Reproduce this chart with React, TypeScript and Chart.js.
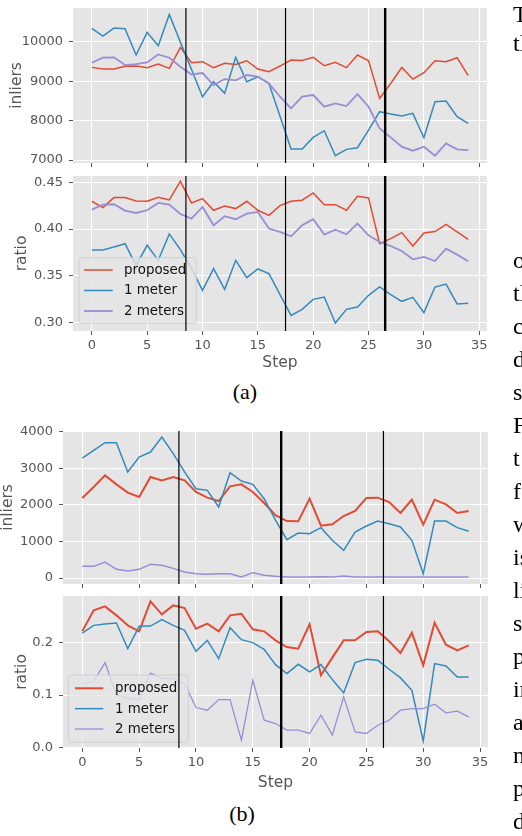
import React, { useEffect, useRef } from "react";
import { Chart, registerables } from "chart.js";

Chart.register(...registerables);

// ---------------- data ----------------
const steps = [0, 1, 2, 3, 4, 5, 6, 7, 8, 9, 10, 11, 12, 13, 14, 15, 16, 17, 18, 19, 20, 21, 22, 23, 24, 25, 26, 27, 28, 29, 30, 31, 32, 33, 34];
const xTicks = [0, 5, 10, 15, 20, 25, 30, 35];
const eventSteps = [8.5, 17.5, 26.5];
const seriesLabels = ["proposed", "1 meter", "2 meters"];
const xAxisLabel = "Step";
const inliersLabel = "inliers";
const ratioLabel = "ratio";
const captions = ["(a)", "(b)"];

const aInliersTicks = [7000, 8000, 9000, 10000];
const aRatioTicks = [0.3, 0.35, 0.4, 0.45];
const bInliersTicks = [0, 1000, 2000, 3000, 4000];
const bRatioTicks = [0.0, 0.1, 0.2];

const aInliersProposed = [9349, 9307, 9307, 9375, 9383, 9341, 9434, 9324, 9856, 9467, 9493, 9341, 9451, 9425, 9518, 9307, 9239, 9383, 9535, 9525, 9603, 9391, 9476, 9341, 9662, 9518, 8563, 8940, 9349, 9053, 9214, 9518, 9493, 9594, 9138];
const aInliers1m = [10338, 10144, 10347, 10330, 9662, 10237, 9899, 10693, 9990, 9300, 8605, 8986, 8690, 9603, 8986, 9112, 8943, 8110, 7278, 7278, 7574, 7743, 7109, 7270, 7312, 7760, 8225, 8166, 8115, 8183, 7565, 8478, 8495, 8098, 7929];
const aInliers2m = [9467, 9594, 9603, 9408, 9434, 9476, 9679, 9594, 9364, 9170, 9205, 8901, 9053, 9019, 9155, 9112, 8943, 8605, 8309, 8605, 8647, 8351, 8436, 8369, 8673, 8351, 7802, 7574, 7337, 7236, 7337, 7109, 7422, 7270, 7253];

const aRatioProposed = [0.4297, 0.4229, 0.4336, 0.4336, 0.43, 0.4297, 0.434, 0.4311, 0.4511, 0.4279, 0.4325, 0.4201, 0.4247, 0.4219, 0.4297, 0.4201, 0.4147, 0.425, 0.4297, 0.4308, 0.4386, 0.4261, 0.4261, 0.4201, 0.435, 0.4333, 0.3844, 0.3898, 0.3962, 0.3819, 0.3958, 0.3973, 0.4051, 0.3969, 0.3891];
const aRatio1m = [0.3777, 0.3777, 0.3809, 0.3844, 0.3613, 0.3827, 0.3666, 0.3948, 0.378, 0.358, 0.3346, 0.3577, 0.3356, 0.3666, 0.3481, 0.3574, 0.3524, 0.33, 0.3078, 0.3142, 0.3249, 0.3274, 0.2996, 0.3142, 0.3167, 0.3292, 0.3381, 0.3299, 0.3228, 0.3271, 0.3107, 0.3381, 0.3413, 0.32, 0.3207];
const aRatio2m = [0.4208, 0.4261, 0.4265, 0.4197, 0.4172, 0.4201, 0.4279, 0.4261, 0.4161, 0.4112, 0.4236, 0.404, 0.4137, 0.4105, 0.4165, 0.4183, 0.4005, 0.3969, 0.3923, 0.404, 0.4105, 0.3941, 0.3994, 0.3944, 0.4058, 0.3933, 0.3862, 0.3819, 0.3766, 0.3677, 0.3702, 0.3659, 0.3791, 0.3727, 0.3656];

const bInliersProposed = [2187, 2487, 2806, 2560, 2333, 2214, 2761, 2670, 2761, 2670, 2351, 2196, 2105, 2506, 2560, 2351, 2050, 1720, 1558, 1549, 2169, 1431, 1467, 1695, 1831, 2187, 2196, 2077, 1777, 2141, 1458, 2141, 2014, 1777, 1831];
const bInliers1m = [3280, 3490, 3699, 3699, 2897, 3308, 3444, 3854, 3400, 2900, 2442, 2397, 1941, 2879, 2651, 2560, 2169, 1580, 1048, 1230, 1212, 1376, 1030, 756, 1257, 1421, 1558, 1485, 1394, 1030, 118, 1558, 1558, 1376, 1276];
const bInliers2m = [319, 319, 437, 237, 191, 237, 374, 346, 264, 164, 118, 100, 118, 118, 27, 146, 73, 46, 27, 27, 27, 36, 27, 55, 27, 27, 27, 27, 27, 27, 27, 27, 27, 27, 27];

const bRatioProposed = [0.222, 0.2616, 0.2692, 0.2521, 0.233, 0.2216, 0.2787, 0.254, 0.2711, 0.266, 0.2267, 0.2362, 0.2216, 0.2521, 0.2552, 0.2254, 0.2216, 0.2044, 0.1917, 0.1886, 0.2349, 0.1378, 0.1714, 0.2044, 0.2044, 0.2203, 0.2216, 0.2025, 0.1803, 0.219, 0.1568, 0.2381, 0.1962, 0.1854, 0.1949];
const bRatio1m = [0.2184, 0.233, 0.2356, 0.2375, 0.1886, 0.2311, 0.2317, 0.2438, 0.233, 0.2235, 0.1835, 0.2044, 0.1695, 0.2286, 0.2057, 0.2, 0.1873, 0.158, 0.141, 0.1587, 0.1441, 0.1581, 0.1295, 0.1041, 0.1619, 0.1683, 0.1663, 0.1492, 0.1327, 0.1092, 0.0121, 0.16, 0.1556, 0.1346, 0.1346];
const bRatio2m = [0.1219, 0.1263, 0.1619, 0.1, 0.094, 0.091, 0.142, 0.132, 0.132, 0.1219, 0.0762, 0.0711, 0.0914, 0.0914, 0.014, 0.1283, 0.0521, 0.0457, 0.033, 0.033, 0.0267, 0.0616, 0.0235, 0.0965, 0.0298, 0.0267, 0.0425, 0.0521, 0.0711, 0.0743, 0.0743, 0.0825, 0.066, 0.0692, 0.0584];

// clipped text of the neighbouring page column
const sideWords = ["The", "tl", "o", "tl", "c", "d", "s", "Fi", "t", "f", "w", "is", "li", "s", "p", "in", "a", "n", "p", "d"];

// ---------------- styles ----------------
const FONT = "'DejaVu Sans', Verdana, sans-serif";
const SERIF = "'Liberation Serif', 'Times New Roman', serif";
const COLORS = ["#E24A33", "#348ABD", "#988ED5"];
const TICK_COLOR = "#555555";
const PLOT_BG = "#E5E5E5";
const X_MIN = -1.7;
const X_MAX = 35.7;

type LegendOpts = {
  display: boolean;
  offsetX: number;
  offsetY: number;
  firstRow: number;
  rowGap: number;
  lineStart: number;
  lineLength: number;
  textOffset: number;
  padRight: number;
  fontSize: number;
};

type Panel = {
  key: string;
  canvasTop: number;
  canvasHeight: number;
  plotLeft: number;
  plotRight: number;
  xAxisHeight: number;
  yMin: number;
  yMax: number;
  yTicks: number[];
  yDecimals: number;
  yTitle: string;
  yTitlePad: number;
  showX: boolean;
  series: number[][];
  widths: number[];
  eventWidths: number[];
  legend: LegendOpts | null;
};

const panels: Panel[] = [
  {
    key: "a-top", canvasTop: -2, canvasHeight: 173, plotLeft: 73, plotRight: 487, xAxisHeight: 8,
    yMin: 6924, yMax: 10855, yTicks: aInliersTicks, yDecimals: 0, yTitle: inliersLabel, yTitlePad: 9.7,
    showX: false, series: [aInliersProposed, aInliers1m, aInliers2m], widths: [1.5, 1.5, 1.8],
    eventWidths: [1.2, 1.2, 2.4], legend: null,
  },
  {
    key: "a-bottom", canvasTop: 166, canvasHeight: 205, plotLeft: 73, plotRight: 487, xAxisHeight: 40,
    yMin: 0.2911, yMax: 0.4567, yTicks: aRatioTicks, yDecimals: 2, yTitle: ratioLabel, yTitlePad: 14.2,
    showX: true, series: [aRatioProposed, aRatio1m, aRatio2m], widths: [1.5, 1.5, 1.8],
    eventWidths: [1.2, 1.2, 2.4],
    legend: { display: true, offsetX: 6, offsetY: 7.7, firstRow: 12.3, rowGap: 20.5, lineStart: 5, lineLength: 28.7, textOffset: 45, padRight: 10, fontSize: 13.4 },
  },
  {
    key: "b-top", canvasTop: 421, canvasHeight: 171, plotLeft: 63, plotRight: 488, xAxisHeight: 8,
    yMin: -164, yMax: 4019, yTicks: bInliersTicks, yDecimals: 0, yTitle: inliersLabel, yTitlePad: 0.5,
    showX: false, series: [bInliersProposed, bInliers1m, bInliers2m], widths: [2, 1.5, 1.5],
    eventWidths: [1.2, 2.4, 1.2], legend: null,
  },
  {
    key: "b-bottom", canvasTop: 586, canvasHeight: 205, plotLeft: 63, plotRight: 488, xAxisHeight: 43,
    yMin: -0.001, yMax: 0.289, yTicks: bRatioTicks, yDecimals: 1, yTitle: ratioLabel, yTitlePad: 13.9,
    showX: true, series: [bRatioProposed, bRatio1m, bRatio2m], widths: [2, 1.5, 1.3],
    eventWidths: [1.2, 2.4, 1.2],
    legend: { display: true, offsetX: 5.3, offsetY: 5.7, firstRow: 13.3, rowGap: 20.35, lineStart: 6.7, lineLength: 28.3, textOffset: 46.7, padRight: 11, fontSize: 13.4 },
  },
];

// ---------------- plugins ----------------
const bgPlugin = {
  id: "plotBg",
  beforeDraw(chart: any) {
    const { ctx, chartArea: a } = chart;
    ctx.save();
    ctx.fillStyle = PLOT_BG;
    ctx.fillRect(a.left, a.top, a.right - a.left, a.bottom - a.top);
    ctx.restore();
  },
};

const legendPlugin = {
  id: "boxLegend",
  afterDatasetsDraw(chart: any, _args: any, opts: any) {
    if (!opts || !opts.display) return;
    const { ctx, chartArea } = chart;
    const ds = chart.data.datasets;
    ctx.save();
    ctx.font = `${opts.fontSize}px ${FONT}`;
    const textW = Math.max(...ds.map((d: any) => ctx.measureText(d.label).width));
    const w = opts.textOffset + textW + opts.padRight;
    const h = opts.firstRow * 2 + opts.rowGap * (ds.length - 1);
    const left = chartArea.left + opts.offsetX;
    const top = chartArea.bottom - opts.offsetY - h;
    ctx.beginPath();
    if (ctx.roundRect) ctx.roundRect(left, top, w, h, 3);
    else ctx.rect(left, top, w, h);
    ctx.fillStyle = "rgba(229,229,229,0.8)";
    ctx.fill();
    ctx.strokeStyle = "rgba(204,204,204,0.8)";
    ctx.lineWidth = 1;
    ctx.stroke();
    ds.forEach((d: any, i: number) => {
      const y = top + opts.firstRow + i * opts.rowGap;
      ctx.beginPath();
      ctx.strokeStyle = d.borderColor;
      ctx.lineWidth = d.borderWidth;
      ctx.moveTo(left + opts.lineStart, y);
      ctx.lineTo(left + opts.lineStart + opts.lineLength, y);
      ctx.stroke();
      ctx.fillStyle = "#111111";
      ctx.textBaseline = "middle";
      ctx.textAlign = "left";
      ctx.fillText(d.label, left + opts.textOffset, y + 0.5);
    });
    ctx.restore();
  },
};

const eventLinesPlugin = {
  id: "eventLines",
  afterDraw(chart: any, _args: any, opts: any) {
    if (!opts || !opts.values) return;
    const { ctx, chartArea: a } = chart;
    const xs = chart.scales.x;
    ctx.save();
    ctx.beginPath();
    ctx.rect(a.left, a.top, a.right - a.left, a.bottom - a.top);
    ctx.clip();
    opts.values.forEach((v: number, i: number) => {
      const px = xs.getPixelForValue(v);
      ctx.beginPath();
      ctx.strokeStyle = "#000000";
      ctx.lineWidth = opts.widths[i];
      ctx.moveTo(px, a.top);
      ctx.lineTo(px, a.bottom);
      ctx.stroke();
    });
    ctx.restore();
  },
};

function zeroPad(s: any) {
  s.paddingLeft = 0;
  s.paddingRight = 0;
  s.paddingTop = 0;
  s.paddingBottom = 0;
}

function buildConfig(p: Panel): any {
  return {
    type: "line",
    data: {
      datasets: p.series.map((vals, i) => ({
        label: seriesLabels[i],
        data: steps.map((s, j) => ({ x: s, y: vals[j] })),
        borderColor: COLORS[i],
        backgroundColor: COLORS[i],
        borderWidth: p.widths[i],
        pointRadius: 0,
        pointHoverRadius: 0,
        tension: 0,
        fill: false,
        order: 3 - i,
      })),
    },
    plugins: [bgPlugin, legendPlugin, eventLinesPlugin],
    options: {
      responsive: false,
      maintainAspectRatio: false,
      animation: false,
      events: [],
      layout: { padding: { left: 0, right: 522 - p.plotRight, top: 10, bottom: 0 } },
      plugins: {
        legend: { display: false },
        tooltip: { enabled: false },
        boxLegend: p.legend ? p.legend : { display: false },
        eventLines: { values: eventSteps, widths: p.eventWidths },
      },
      scales: {
        x: {
          type: "linear",
          min: X_MIN,
          max: X_MAX,
          afterBuildTicks: (s: any) => {
            s.ticks = xTicks.map((v) => ({ value: v }));
          },
          afterFit: (s: any) => {
            s.height = p.xAxisHeight;
            zeroPad(s);
          },
          border: { display: false },
          grid: { color: "#FFFFFF", lineWidth: 1, tickColor: TICK_COLOR, tickLength: 4, drawTicks: true },
          ticks: {
            display: p.showX,
            autoSkip: false,
            maxRotation: 0,
            color: TICK_COLOR,
            padding: 2.5,
            font: { family: FONT, size: 13 },
            callback: (v: any) => String(v),
          },
          title: {
            display: p.showX,
            text: xAxisLabel,
            color: TICK_COLOR,
            font: { family: FONT, size: 15.5, lineHeight: 1 },
            padding: { top: 0, bottom: 0.2 },
          },
        },
        y: {
          type: "linear",
          min: p.yMin,
          max: p.yMax,
          afterBuildTicks: (s: any) => {
            s.ticks = p.yTicks.map((v) => ({ value: v }));
          },
          afterFit: (s: any) => {
            s.width = p.plotLeft;
            zeroPad(s);
          },
          border: { display: false },
          grid: { color: "#FFFFFF", lineWidth: 1, tickColor: TICK_COLOR, tickLength: 4, drawTicks: true },
          ticks: {
            color: TICK_COLOR,
            padding: 6,
            font: { family: FONT, size: 13 },
            callback: (v: any) => Number(v).toFixed(p.yDecimals),
          },
          title: {
            display: true,
            text: p.yTitle,
            color: TICK_COLOR,
            font: { family: FONT, size: 15.5, lineHeight: 1 },
            padding: { top: p.yTitlePad, bottom: 0 },
          },
        },
      },
    },
  };
}

function PanelChart({ panel }: { panel: Panel }) {
  const ref = useRef<HTMLCanvasElement | null>(null);
  useEffect(() => {
    const canvas = ref.current;
    if (!canvas) return;
    const chart = new Chart(canvas, buildConfig(panel));
    return () => chart.destroy();
  }, [panel]);
  return (
    <canvas
      ref={ref}
      width={522}
      height={panel.canvasHeight}
      style={{ position: "absolute", left: 0, top: panel.canvasTop, width: 522, height: panel.canvasHeight }}
    />
  );
}

const SIDE_FS = 24;
const SIDE_LEFT = 513;
const sideBaselines = [22, 51, 268, 301, 334, 367, 400, 433, 466, 499, 532, 565, 598, 631, 664, 697, 730, 763, 796, 829];
const captionBaselines = [399.5, 821];
const captionCenters = [245, 242];
const CAPTION_FS = 22;

export default function App() {
  return (
    <div
      style={{
        position: "absolute",
        left: 0,
        top: 0,
        width: 522,
        height: 836,
        overflow: "hidden",
        background: "#FFFFFF",
      }}
    >
      {panels.map((p) => (
        <PanelChart key={p.key} panel={p} />
      ))}
      {captions.map((c, i) => (
        <div
          key={c}
          style={{
            position: "absolute",
            left: captionCenters[i] - 100,
            width: 200,
            textAlign: "center",
            top: captionBaselines[i] - 0.8375 * CAPTION_FS,
            fontFamily: SERIF,
            fontSize: CAPTION_FS,
            lineHeight: 1,
            color: "#000",
          }}
        >
          {c}
        </div>
      ))}
      {sideWords.map((w, i) => (
        <div
          key={i}
          style={{
            position: "absolute",
            left: SIDE_LEFT,
            top: sideBaselines[i] - 0.8375 * SIDE_FS,
            fontFamily: SERIF,
            fontSize: SIDE_FS,
            lineHeight: 1,
            color: "#000",
            whiteSpace: "nowrap",
          }}
        >
          {w}
        </div>
      ))}
    </div>
  );
}
